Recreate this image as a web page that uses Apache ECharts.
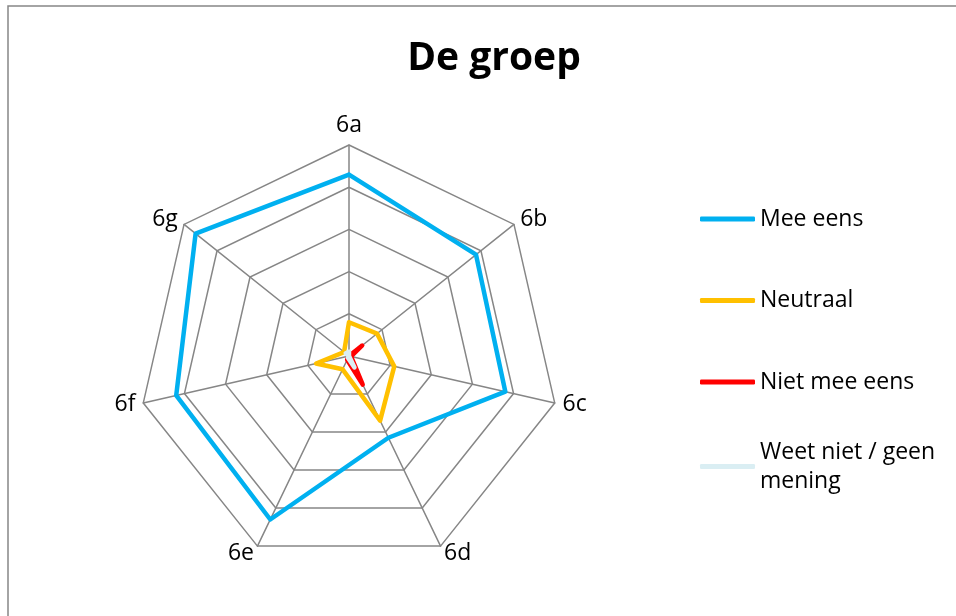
<!DOCTYPE html>
<html>
<head>
<meta charset="utf-8">
<script src="https://cdn.jsdelivr.net/npm/echarts@6/dist/echarts.min.js"></script>
<style>
  html, body { margin: 0; padding: 0; background: #fff; }
  #chart { width: 956px; height: 616px; }
</style>
</head>
<body>
<div id="chart"></div>
<script>
  // vragen (in de volgorde van het plaatje, met de klok mee vanaf boven)
  var categories = ['6a', '6b', '6c', '6d', '6e', '6f', '6g'];
  var meeEens = [86, 77, 76, 43, 86, 84, 93];
  var neutraal = [16, 17, 22, 34, 7, 16, 3];
  var nietMeeEens = [0, 8, 1, 15, 2, 0, 0];
  var weetNiet = [2, 0, 0, 6, 1, 0, 2];

  var seriesNames = ['Mee eens', 'Neutraal', 'Niet mee eens', 'Weet niet / geen\nmening'];
  var seriesColors = ['#00B0F0', '#FFC000', '#FF0000', '#DAEEF3'];

  // echarts zet de assen tegen de klok in, dus volgorde omdraaien (6a blijft boven)
  function reorder(arr) {
    return [arr[0]].concat(arr.slice(1).reverse());
  }

  var allValues = [meeEens, neutraal, nietMeeEens, weetNiet];
  var font = '"Open Sans", "Noto Sans", sans-serif';

  var myChart = echarts.init(document.getElementById('chart'));
  myChart.setOption({
    animation: false,
    title: {
      text: 'De groep',
      left: 489,
      top: 34,
      textAlign: 'center',
      textStyle: { fontFamily: font, fontWeight: 'bold', fontSize: 39, color: '#000' }
    },
    graphic: [{
      type: 'rect',
      shape: { x: 8, y: 6, width: 1000, height: 700 },
      style: { fill: null, stroke: '#868686', lineWidth: 1.5 }
    }],
    legend: [{
      orient: 'vertical',
      left: 695,
      top: 202,
      itemWidth: 55,
      itemHeight: 5,
      itemGap: 57.5,
      icon: 'roundRect',
      data: seriesNames.slice(0, 3),
      textStyle: { fontFamily: font, fontSize: 23, lineHeight: 24, color: '#000' }
    }, {
      orient: 'vertical',
      left: 695,
      top: 418,
      itemWidth: 55,
      itemHeight: 5,
      icon: 'roundRect',
      data: seriesNames.slice(3),
      textStyle: { fontFamily: font, fontSize: 23, lineHeight: 29, color: '#000', padding: [29, 0, 0, 0] }
    }],
    radar: {
      center: [349, 356],
      radius: 211,
      startAngle: 90,
      splitNumber: 5,
      shape: 'polygon',
      indicator: reorder(categories).map(function (c) { return { name: c, min: 0, max: 100 }; }),
      axisName: { color: '#000', fontFamily: font, fontSize: 23 },
      nameGap: 8,
      splitArea: { show: false },
      splitLine: { lineStyle: { color: '#868686', width: 1.5 } },
      axisLine: { lineStyle: { color: '#868686', width: 1.5 } }
    },
    series: [{
      type: 'radar',
      symbol: 'none',
      data: allValues.map(function (vals, i) {
        return {
          name: seriesNames[i],
          value: reorder(vals),
          itemStyle: { color: seriesColors[i] },
          lineStyle: { color: seriesColors[i], width: 4.5, join: 'round', cap: 'round' }
        };
      })
    }]
  });
</script>
</body>
</html>
